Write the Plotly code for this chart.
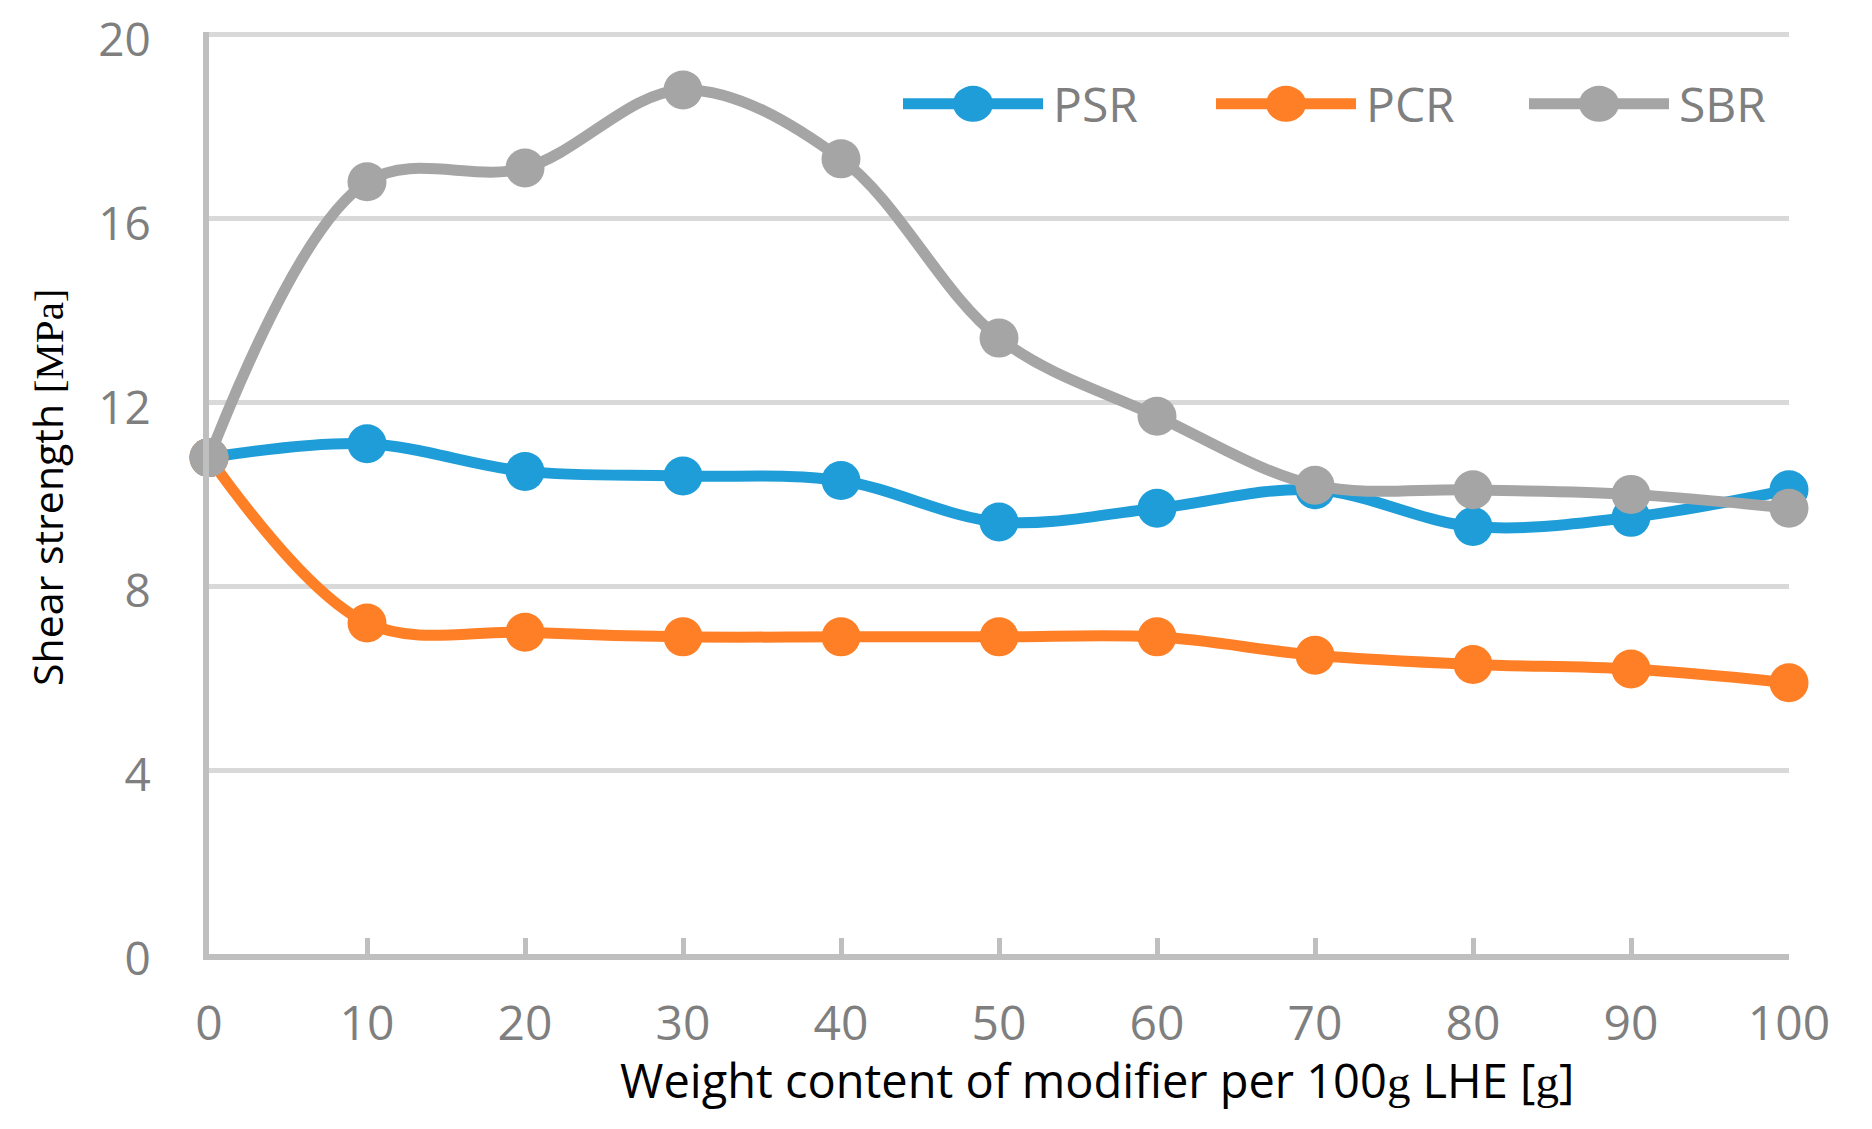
import plotly.graph_objects as go

# ---- data ----
x_values = [0, 10, 20, 30, 40, 50, 60, 70, 80, 90, 100]
psr = [10.8, 11.1, 10.5, 10.4, 10.3, 9.4, 9.7, 10.1, 9.3, 9.5, 10.1]
pcr = [10.8, 7.2, 7.0, 6.9, 6.9, 6.9, 6.9, 6.5, 6.3, 6.2, 5.9]
sbr = [10.8, 16.8, 17.1, 18.8, 17.3, 13.4, 11.7, 10.2, 10.1, 10.0, 9.7]
series_names = ["PSR", "PCR", "SBR"]
y_ticks = [0, 4, 8, 12, 16, 20]
x_ticks = [0, 10, 20, 30, 40, 50, 60, 70, 80, 90, 100]

colors = ["#1E9DD8", "#FE7F26", "#A5A5A5"]
series = [psr, pcr, sbr]

# page body margin offset (screen px = figure px + OFF)
OFF = 8
W, H = 1872 - 2 * OFF, 1129 - 2 * OFF

# desired screen geometry
X0_S, X100_S = 209, 1789        # x=0 and x=100 on screen
Y0_S, Y20_S = 954, 35           # y=0 and y=20 on screen
Y_TOP = 20.06                   # small headroom so the top gridline is drawn
ppu = (Y0_S - Y20_S) / 20.0

ML = X0_S - OFF
PW = X100_S - X0_S
MR = W - ML - PW
plot_bottom = Y0_S - OFF
PH = Y_TOP * ppu
MT = plot_bottom - PH
MB = H - plot_bottom

fig = go.Figure()
for name, vals, col in zip(series_names, series, colors):
    fig.add_trace(go.Scatter(
        x=x_values, y=vals, name=name, mode="lines+markers",
        line=dict(color=col, width=11, shape="spline", smoothing=1),
        marker=dict(color=col, size=39),
        cliponaxis=False, showlegend=False,
    ))

def sx(px):
    return (px - OFF - ML) / PW

def sy(py):
    return (plot_bottom - (py - OFF)) / PH

# ---- custom legend (decoration) ----
leg_x0 = 903
leg_step = 313
leg_y = 104
line_len = 140
shapes = []
annotations = []
for i, (name, col) in enumerate(zip(series_names, colors)):
    x0 = leg_x0 + leg_step * i
    shapes.append(dict(type="line", xref="paper", yref="paper",
                       x0=sx(x0), x1=sx(x0 + line_len), y0=sy(leg_y), y1=sy(leg_y),
                       line=dict(color=col, width=11), layer="above"))
    shapes.append(dict(type="circle", xref="paper", yref="paper",
                       xsizemode="pixel", ysizemode="pixel",
                       xanchor=sx(x0 + line_len / 2), yanchor=sy(leg_y),
                       x0=-20, x1=20, y0=-18, y1=18,
                       fillcolor=col, line=dict(width=0), layer="above"))
    annotations.append(dict(xref="paper", yref="paper",
                            x=sx(x0 + line_len + 8), y=sy(leg_y),
                            xanchor="left", yanchor="middle", showarrow=False,
                            text=name, font=dict(family="Open Sans", size=48, color="#7F7F7F")))

# axis titles
annotations.append(dict(xref="paper", yref="paper", x=sx(1097), y=sy(1080),
                        xanchor="center", yanchor="middle", showarrow=False,
                        text="Weight content of modifier per 100<span style='font-family:Liberation Serif'>g</span> LHE [<span style='font-family:Liberation Serif'>g</span>]",
                        font=dict(family="Open Sans", size=47, color="#000000")))
annotations.append(dict(xref="paper", yref="paper", x=sx(47), y=sy(488),
                        xanchor="center", yanchor="middle", showarrow=False, textangle=-90,
                        text="Shear strength <span style='font-family:Liberation Serif'>[MPa]</span>",
                        font=dict(family="Open Sans", size=41, color="#000000")))

fig.update_layout(
    width=W, height=H,
    margin=dict(l=ML, r=MR, t=MT, b=MB, autoexpand=False),
    plot_bgcolor="white", paper_bgcolor="white",
    shapes=shapes, annotations=annotations,
    font=dict(family="Open Sans", color="#7F7F7F"),
)
fig.update_xaxes(
    range=[0, 100], tickvals=x_ticks, ticktext=[str(v) for v in x_ticks],
    showgrid=False, zeroline=False,
    showline=True, linecolor="#BFBFBF", linewidth=6,
    ticks="inside", ticklen=16, tickwidth=5, tickcolor="#BFBFBF",
    tickfont=dict(family="Open Sans", size=48, color="#7F7F7F"),
    ticklabelstandoff=22, ticklabeloverflow="allow",
)
fig.update_yaxes(
    range=[0, Y_TOP], tickvals=y_ticks, ticktext=[str(v) for v in y_ticks],
    showgrid=True, gridcolor="#D9D9D9", gridwidth=5, zeroline=False,
    showline=True, linecolor="#BFBFBF", linewidth=6,
    ticks="", tickfont=dict(family="Open Sans", size=46, color="#7F7F7F"),
    ticklabelstandoff=43, ticklabelshift=5, ticklabeloverflow="allow",
)

fig.write_html("out.html")
